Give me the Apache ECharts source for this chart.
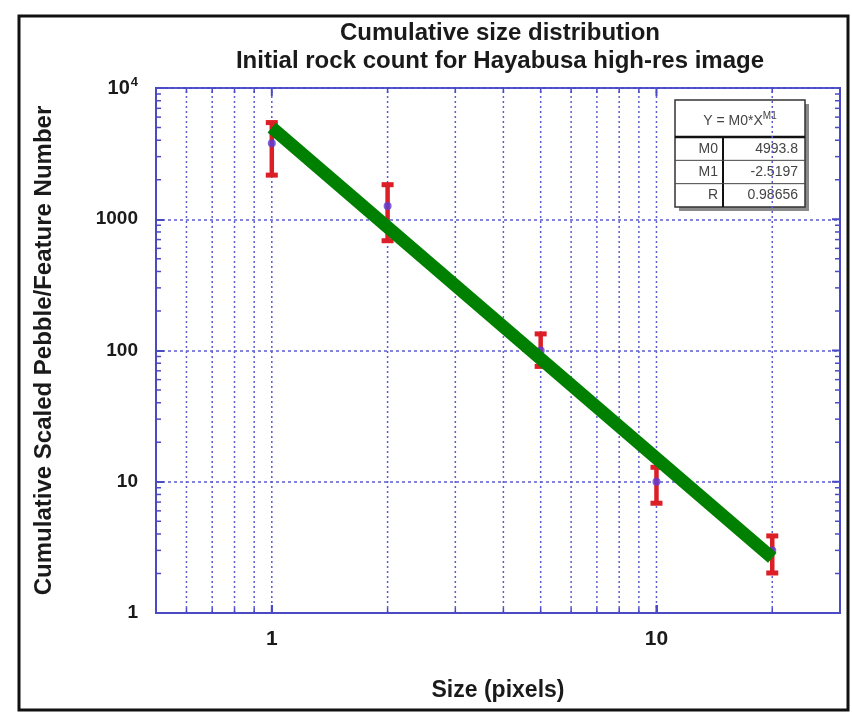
<!DOCTYPE html>
<html>
<head>
<meta charset="utf-8">
<script src="https://cdn.jsdelivr.net/npm/echarts@6/dist/echarts.min.js"></script>
<style>
  html, body { margin: 0; padding: 0; background: #ffffff; }
  #chart { width: 852px; height: 713px; }
</style>
</head>
<body>
<div id="chart"></div>
<script>
// Rock sizes (pixels) and cumulative scaled counts
const sizes = [1, 2, 5, 10, 20];
const counts = [3800, 1260, 100, 10, 3.0];
const errLow = [2150, 680, 75, 6.8, 2.0];
const errHigh = [5500, 1850, 135, 13, 3.9];

// Power-law fit Y = M0 * X^M1, drawn between its end points
const fitX = [1, 20];
const fitY = [4993.8, 2.63];
const fitParamNames = ['M0', 'M1', 'R'];
const fitParamValues = ['4993.8', '-2.5197', '0.98656'];

// Axis ranges and grid positions
const xRange = [0.5, 30];
const yRange = [1, 10000];
const xGridValues = [0.6, 0.7, 0.8, 0.9, 1, 2, 3, 4, 5, 6, 7, 8, 9, 10, 20];
const yDecades = [1, 10, 100, 1000];
const yMinorSteps = [2, 3, 4, 5, 6, 7, 8, 9];
const yMinorTicks = [];
yDecades.forEach(d => yMinorSteps.forEach(m => yMinorTicks.push(d * m)));

const axisColor = '#4a4ac4';
const gridColor = '#5c5cd2';
const barColor = '#dc1e26';
const dotColor = '#5b3dd8';
const fitColor = '#008000';
const textColor = '#1a1a1a';
const font = 'Liberation Sans, Arial, sans-serif';

const isDecade = v => Math.abs(Math.log10(v) - Math.round(Math.log10(v))) < 1e-6;

const chart = echarts.init(document.getElementById('chart'), null, { renderer: 'canvas' });

// Fit-parameter table in the upper right
const tbl = { x: 675, y: 100, w: 130, h: 107, head: 37, col: 48 };
const rowH = (tbl.h - tbl.head) / fitParamNames.length;
const cellText = { fontFamily: font, fontSize: 14, fill: '#444444' };
const tableChildren = [
  { type: 'rect', shape: { x: tbl.x + 4, y: tbl.y + 4, width: tbl.w, height: tbl.h }, style: { fill: '#8a8a8a' } },
  { type: 'rect', shape: { x: tbl.x, y: tbl.y, width: tbl.w, height: tbl.h }, style: { fill: '#ffffff', stroke: '#333333', lineWidth: 1.5 } },
  { type: 'line', shape: { x1: tbl.x, y1: tbl.y + tbl.head, x2: tbl.x + tbl.w, y2: tbl.y + tbl.head }, style: { stroke: '#111111', lineWidth: 2.5 } },
  { type: 'line', shape: { x1: tbl.x + tbl.col, y1: tbl.y + tbl.head, x2: tbl.x + tbl.col, y2: tbl.y + tbl.h }, style: { stroke: '#111111', lineWidth: 2 } },
  {
    type: 'text', x: tbl.x + tbl.w / 2, y: tbl.y + tbl.head / 2 + 3,
    style: {
      text: '{n|Y = M0*X}{s|M1}', align: 'center', verticalAlign: 'middle',
      rich: {
        n: { fontFamily: font, fontSize: 14, fill: '#444444' },
        s: { fontFamily: font, fontSize: 10, fill: '#444444', verticalAlign: 'bottom', padding: [0, 0, 10, 0] }
      }
    }
  }
];
fitParamNames.forEach((name, i) => {
  const cy = tbl.y + tbl.head + rowH * i + rowH / 2;
  if (i > 0) {
    tableChildren.push({ type: 'line', shape: { x1: tbl.x, y1: tbl.y + tbl.head + rowH * i, x2: tbl.x + tbl.w, y2: tbl.y + tbl.head + rowH * i }, style: { stroke: '#444444', lineWidth: 1 } });
  }
  tableChildren.push({ type: 'text', x: tbl.x + tbl.col - 5, y: cy, style: Object.assign({ text: name, align: 'right', verticalAlign: 'middle' }, cellText) });
  tableChildren.push({ type: 'text', x: tbl.x + tbl.w - 7, y: cy, style: Object.assign({ text: fitParamValues[i], align: 'right', verticalAlign: 'middle' }, cellText) });
});

const option = {
  backgroundColor: '#ffffff',
  animation: false,
  title: {
    text: 'Cumulative size distribution\nInitial rock count for Hayabusa high-res image',
    left: 495, top: 14, textAlign: 'center',
    textStyle: { fontFamily: font, fontSize: 24, fontWeight: 'bold', color: textColor, lineHeight: 28 }
  },
  grid: {
    left: 156, top: 88, width: 684, height: 525,
    show: true, borderColor: axisColor, borderWidth: 2, backgroundColor: 'transparent'
  },
  xAxis: {
    type: 'log', logBase: 10, min: xRange[0], max: xRange[1],
    name: 'Size (pixels)', nameLocation: 'middle', nameGap: 66,
    nameTextStyle: { fontFamily: font, fontSize: 23, fontWeight: 'bold', color: textColor },
    axisLine: { lineStyle: { color: axisColor, width: 2 } },
    axisTick: { inside: true, length: 8, lineStyle: { color: axisColor, width: 2 } },
    axisLabel: {
      margin: 16, fontFamily: font, fontSize: 21, fontWeight: 'bold', color: textColor,
      formatter: v => (isDecade(v) ? String(Math.round(v)) : '')
    },
    splitLine: { show: false }
  },
  yAxis: {
    type: 'log', logBase: 10, min: yRange[0], max: yRange[1],
    name: 'Cumulative Scaled Pebble/Feature Number', nameLocation: 'middle', nameGap: 100, nameRotate: 90,
    nameTextStyle: { fontFamily: font, fontSize: 24, fontWeight: 'bold', color: textColor },
    axisLine: { lineStyle: { color: axisColor, width: 2 } },
    axisTick: { inside: true, length: 8, lineStyle: { color: axisColor, width: 2 } },
    axisLabel: {
      margin: 18, fontFamily: font, fontSize: 19, fontWeight: 'bold', color: textColor,
      formatter: v => {
        if (!isDecade(v)) return '';
        const p = Math.round(Math.log10(v));
        return p >= 4 ? '{b|10}{s|' + p + '}' : String(Math.round(v));
      },
      rich: {
        b: { fontFamily: font, fontSize: 20, fontWeight: 'bold', color: textColor },
        s: { fontFamily: font, fontSize: 13, fontWeight: 'bold', color: textColor, verticalAlign: 'bottom', padding: [0, 0, 12, 1] }
      }
    },
    splitLine: { show: true, lineStyle: { color: gridColor, width: 1.5, type: [3, 3] } }
  },
  graphic: [
    { type: 'rect', shape: { x: 19, y: 16, width: 829, height: 694 }, style: { fill: 'none', stroke: '#111111', lineWidth: 3 }, z: 100 },
    { type: 'group', children: tableChildren, z: 100 }
  ],
  series: [
    {
      // vertical dotted grid with small ticks on the bottom and top edges
      type: 'custom', name: 'xgrid', silent: true, clip: false, z: 1,
      data: xGridValues.map(v => [v, yRange[0]]),
      encode: { x: 0, y: 1 },
      renderItem: (params, api) => {
        const v = api.value(0);
        const b = api.coord([v, yRange[0]]);
        const t = api.coord([v, yRange[1]]);
        const major = isDecade(v);
        return {
          type: 'group', children: [
            { type: 'line', shape: { x1: b[0], y1: b[1], x2: t[0], y2: t[1] }, style: { stroke: gridColor, lineWidth: 1.5, lineDash: [2, 3] } },
            { type: 'line', shape: { x1: b[0], y1: b[1], x2: b[0], y2: b[1] - (major ? 8 : 5) }, style: { stroke: axisColor, lineWidth: major ? 2 : 1.5 } },
            { type: 'line', shape: { x1: t[0], y1: t[1], x2: t[0], y2: t[1] + (major ? 8 : 5) }, style: { stroke: axisColor, lineWidth: major ? 2 : 1.5 } }
          ]
        };
      }
    },
    {
      // minor ticks on the left and right edges
      type: 'custom', name: 'yminor', silent: true, clip: false, z: 2,
      data: yMinorTicks.map(v => [xRange[0], v]),
      encode: { x: 0, y: 1 },
      renderItem: (params, api) => {
        const v = api.value(1);
        const l = api.coord([xRange[0], v]);
        const r = api.coord([xRange[1], v]);
        return {
          type: 'group', children: [
            { type: 'line', shape: { x1: l[0], y1: l[1], x2: l[0] + 5, y2: l[1] }, style: { stroke: axisColor, lineWidth: 1.5 } },
            { type: 'line', shape: { x1: r[0], y1: r[1], x2: r[0] - 5, y2: r[1] }, style: { stroke: axisColor, lineWidth: 1.5 } }
          ]
        };
      }
    },
    {
      type: 'custom', name: 'yright', silent: true, clip: false, z: 2,
      data: yDecades.slice(1).map(v => [xRange[1], v]),
      encode: { x: 0, y: 1 },
      renderItem: (params, api) => {
        const r = api.coord([xRange[1], api.value(1)]);
        return { type: 'line', shape: { x1: r[0], y1: r[1], x2: r[0] - 8, y2: r[1] }, style: { stroke: axisColor, lineWidth: 2 } };
      }
    },
    {
      // error bars with caps
      type: 'custom', name: 'errors', clip: false, z: 5,
      data: sizes.map((x, i) => [x, errLow[i], errHigh[i]]),
      encode: { x: 0, y: [1, 2] },
      renderItem: (params, api) => {
        const lo = api.coord([api.value(0), api.value(1)]);
        const hi = api.coord([api.value(0), api.value(2)]);
        const cap = 6;
        return {
          type: 'group', children: [
            { type: 'line', shape: { x1: lo[0], y1: lo[1], x2: hi[0], y2: hi[1] }, style: { stroke: barColor, lineWidth: 4.5 } },
            { type: 'rect', shape: { x: hi[0] - cap, y: hi[1] - 2, width: cap * 2, height: 5 }, style: { fill: barColor } },
            { type: 'rect', shape: { x: lo[0] - cap, y: lo[1] - 3, width: cap * 2, height: 5 }, style: { fill: barColor } }
          ]
        };
      }
    },
    {
      type: 'scatter', name: 'counts', z: 6,
      data: sizes.map((x, i) => [x, counts[i]]),
      symbol: 'circle', symbolSize: 8,
      itemStyle: { color: dotColor }
    },
    {
      type: 'line', name: 'fit', z: 8,
      data: fitX.map((x, i) => [x, fitY[i]]),
      symbol: 'none', clip: false,
      lineStyle: { color: fitColor, width: 13, cap: 'butt' }
    }
  ]
};

chart.setOption(option);
</script>
</body>
</html>
